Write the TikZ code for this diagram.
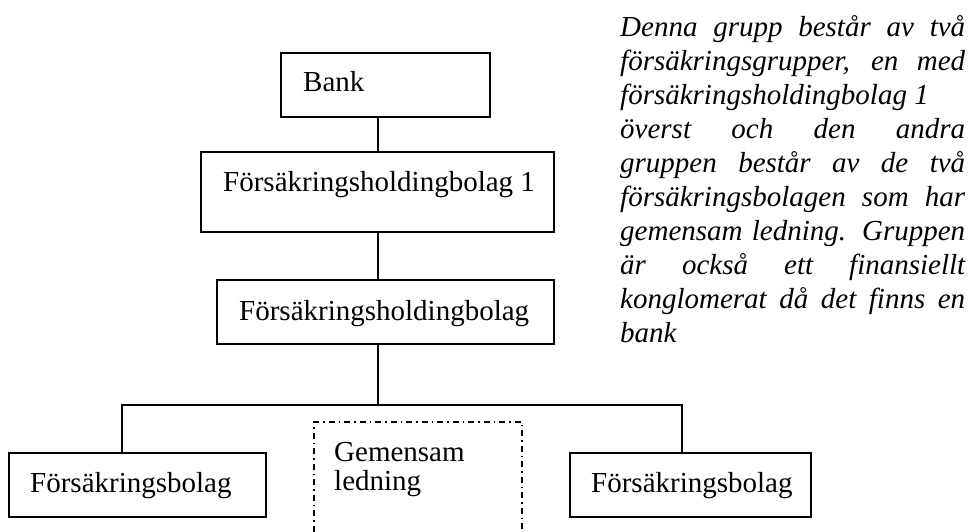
\documentclass[tikz,border=0pt]{standalone}
\usepackage{fontspec}
\setmainfont{Liberation Serif}
\begin{document}
\begin{tikzpicture}[x=1pt,y=-1pt,
  box/.style={draw=black,line width=1.2pt,rectangle,inner sep=0pt},
  dbox/.style={draw=black,line width=1.2pt,rectangle,inner sep=0pt,dash pattern=on 6pt off 4pt on 1.5pt off 4pt},
  lbl/.style={anchor=base west,inner sep=0pt,font=\fontsize{29}{29}\selectfont},
  conn/.style={draw=black,line width=1.2pt}]
\clip (0,0) rectangle (970,532);
\fill[white] (0,0) rectangle (970,532);
% boxes
\node[box,minimum width=209pt,minimum height=64pt] (bank) at (385.5,85) {};
\node[box,minimum width=353pt,minimum height=80pt] (fh1) at (377.5,192) {};
\node[box,minimum width=337pt,minimum height=64pt] (fh) at (385.5,312) {};
\node[box,minimum width=257pt,minimum height=64pt] (lb) at (137.5,485) {};
\node[box,minimum width=241pt,minimum height=64pt] (rb) at (690.5,485) {};
\node[dbox,minimum width=208pt,minimum height=178pt] (gl) at (418,511) {};
% texts
\node[lbl] (bankt) at (303,92) {Bank};
\node[lbl] (fh1t) at (223,192) {Försäkringsholdingbolag 1};
\node[lbl] (fht) at (239,320) {Försäkringsholdingbolag};
\node[lbl] (lbt) at (30,492) {Försäkringsbolag};
\node[lbl] (rbt) at (591,492) {Försäkringsbolag};
\node[lbl] (glt) at (334,461) {\parbox[t]{170pt}{\fontsize{29}{29}\selectfont Gemensam\\ledning}};
\node[lbl] (para) at (620,37) {\parbox[t]{345pt}{\fontsize{29}{34}\selectfont\itshape
\makebox[345pt][s]{Denna grupp består av två}\\
\makebox[345pt][s]{försäkringsgrupper, en med}\\
försäkringsholdingbolag 1\\
\makebox[345pt][s]{överst och den andra}\\
\makebox[345pt][s]{gruppen består av de två}\\
\makebox[345pt][s]{försäkringsbolagen som har}\\
\makebox[345pt][s]{gemensam ledning. Gruppen}\\
\makebox[345pt][s]{är också ett finansiellt}\\
\makebox[345pt][s]{konglomerat då det finns en}\\
bank}};
% connectors
\coordinate (spine) at (378,405);
\coordinate (busL) at (122,405);
\coordinate (busR) at (682,405);
\draw[conn] (bank.south -| spine) -- (fh1.north -| spine);
\draw[conn] (fh1.south -| spine) -- (fh.north -| spine);
\draw[conn] (fh.south -| spine) -- (spine);
\draw[conn] (lb.north -| busL) -- (busL) -- (busR) -- (rb.north -| busR);
\end{tikzpicture}
\end{document}
